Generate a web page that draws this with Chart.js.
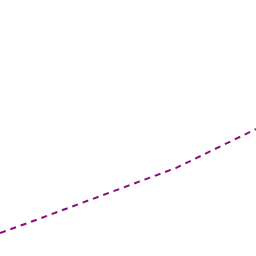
<!DOCTYPE html>
<html>
<head>
<meta charset="utf-8">
<script src="https://cdn.jsdelivr.net/npm/chart.js@4"></script>
<style>
  html, body { margin: 0; padding: 0; background: #fff; }
  #wrap { width: 256px; height: 256px; }
</style>
</head>
<body>
<div id="wrap"><canvas id="chart" width="256" height="256"></canvas></div>
<script>
'use strict';

// readings (x: 0..100, y: 0..100)
const xValues = [0, 9.8, 68.8, 100];
const yValues = [9.0, 12.5, 34.4, 49.6];

const points = xValues.map((x, i) => ({ x, y: yValues[i] }));

new Chart(document.getElementById('chart').getContext('2d'), {
  type: 'line',
  data: {
    datasets: [{
      data: points,
      borderColor: '#880e80',
      borderWidth: 2,
      borderDash: [6, 5],
      pointRadius: 0,
      tension: 0,
      fill: false
    }]
  },
  options: {
    responsive: false,
    animation: false,
    layout: { padding: 0 },
    plugins: { legend: { display: false }, tooltip: { enabled: false } },
    scales: {
      x: { type: 'linear', min: 0, max: 100, display: false },
      y: { type: 'linear', min: 0, max: 100, display: false }
    }
  }
});
</script>
</body>
</html>
